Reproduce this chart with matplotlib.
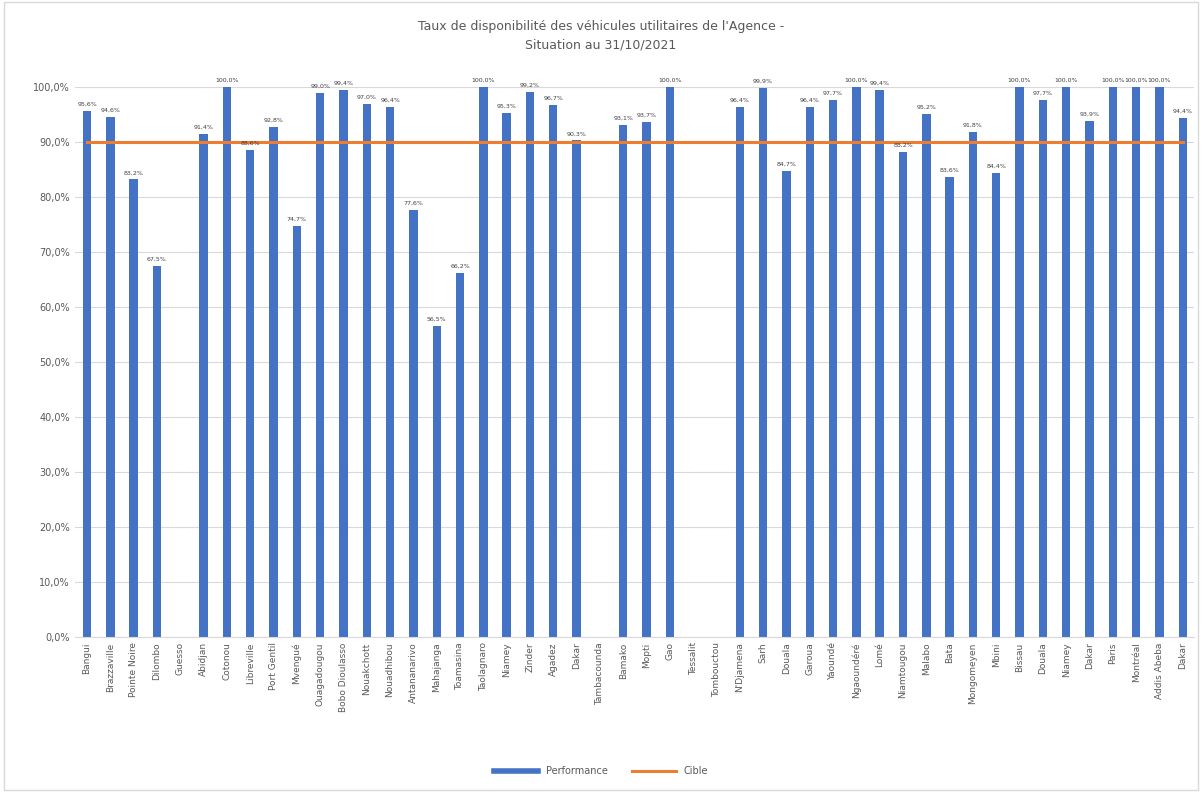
import matplotlib
matplotlib.use("Agg")
import matplotlib.pyplot as plt
from matplotlib.lines import Line2D
import numpy as np

sites = ["Bangui", "Brazzaville", "Pointe Noire", "Dilombo", "Guesso", "Abidjan",
         "Cotonou", "Libreville", "Port Gentil", "Mvengué", "Ouagadougou",
         "Bobo Dioulasso", "Nouakchott", "Nouadhibou", "Antananarivo", "Mahajanga",
         "Toamasina", "Taolagnaro", "Niamey", "Zinder", "Agadez", "Dakar",
         "Tambacounda", "Bamako", "Mopti", "Gao", "Tessalit", "Tombouctou",
         "N'Djamena", "Sarh", "Douala", "Garoua", "Yaoundé", "Ngaoundéré", "Lomé",
         "Niamtougou", "Malabo", "Bata", "Mongomeyen", "Mbini", "Bissau", "Douala",
         "Niamey", "Dakar", "Paris", "Montréal", "Addis Abeba", "Dakar"]

# None = pas de données
performance = [95.6, 94.6, 83.2, 67.5, None, 91.4,
               100.0, 88.6, 92.8, 74.7, 99.0,
               99.4, 97.0, 96.4, 77.6, 56.5,
               66.2, 100.0, 95.3, 99.2, 96.7, 90.3,
               None, 93.1, 93.7, 100.0, None, None,
               96.4, 99.9, 84.7, 96.4, 97.7, 100.0, 99.4,
               88.2, 95.2, 83.6, 91.8, 84.4, 100.0, 97.7,
               100.0, 93.9, 100.0, 100.0, 100.0, 94.4]

cible = 90.0

blue = "#4472C4"
orange = "#ED7D31"
grey = "#595959"

fig = plt.figure(figsize=(12.02, 7.92), dpi=100)
ax = fig.add_axes([0.0627, 0.196, 0.931, 0.694])

x = np.arange(len(sites))
heights = [v if v is not None else 0 for v in performance]
ax.bar(x, heights, width=0.36, color=blue, zorder=2)
ax.plot([x[0], x[-1]], [cible, cible], color=orange, lw=2.2, zorder=3)

for xi, v in zip(x, performance):
    if v is None:
        continue
    ax.annotate("{:.1f}%".format(v).replace(".", ","), xy=(xi, v),
                xytext=(0, 3), textcoords="offset points",
                ha="center", va="bottom", fontsize=4.5, color="#404040",
                annotation_clip=False, zorder=4)

ax.set_xlim(-0.5, len(sites) - 0.5)
ax.set_ylim(0, 100)
ax.set_yticks(np.arange(0, 101, 10))
ax.set_yticklabels(["{:.1f}%".format(t).replace(".", ",") for t in range(0, 101, 10)],
                   fontsize=7, color=grey)
ax.set_xticks(x)
ax.set_xticklabels(sites, rotation=90, fontsize=6.5, color=grey)
ax.tick_params(axis="both", length=0, pad=4)
ax.grid(axis="y", color="#D9D9D9", lw=0.8, zorder=0)
for s in ["top", "right", "left"]:
    ax.spines[s].set_visible(False)
ax.spines["bottom"].set_color("#D9D9D9")

fig.text(0.5, 0.955, "Taux de disponibilité des véhicules utilitaires de l'Agence -\nSituation au 31/10/2021",
         ha="center", va="center", fontsize=9, color=grey, linespacing=1.5)

handles = [Line2D([0], [0], color=blue, lw=4), Line2D([0], [0], color=orange, lw=2.2)]
fig.legend(handles, ["Performance", "Cible"], loc="center", bbox_to_anchor=(0.5, 0.026),
           ncol=2, frameon=False, fontsize=7, labelcolor=grey, handlelength=4.5,
           columnspacing=2.5)

border = plt.Rectangle((0.003, 0.003), 0.994, 0.994, transform=fig.transFigure,
                       fill=False, edgecolor="#D9D9D9", lw=1)
fig.patches.append(border)

fig.savefig("out.png", dpi=100)
